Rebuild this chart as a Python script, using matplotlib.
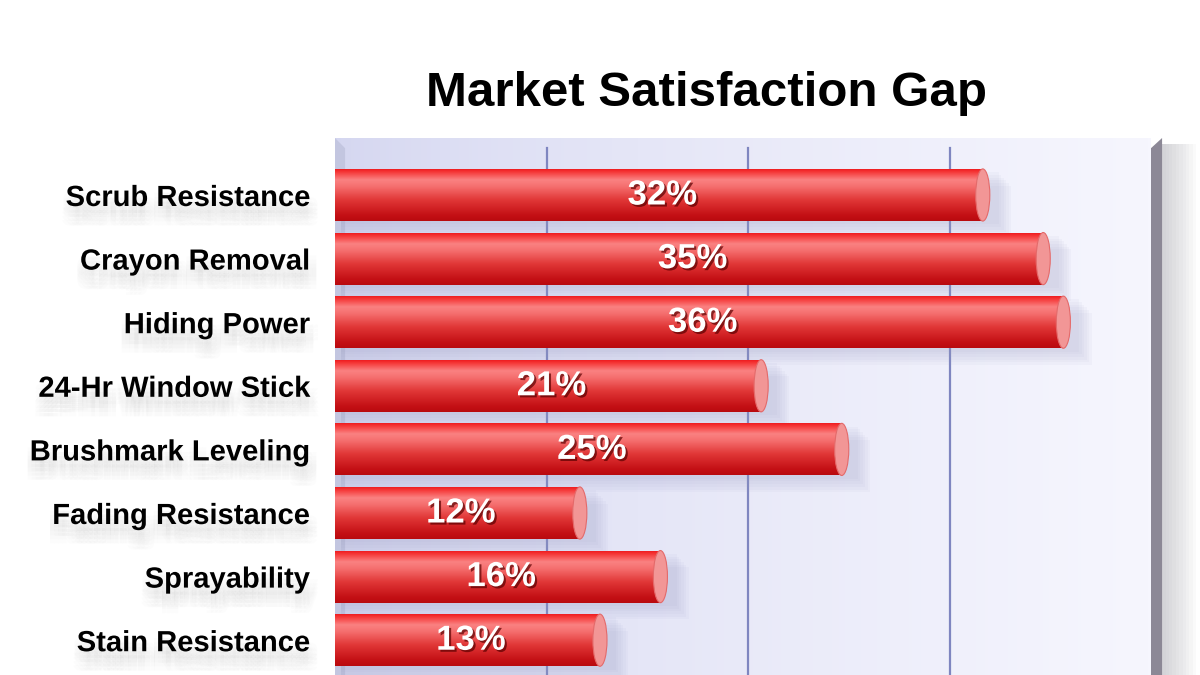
import numpy as np
import matplotlib
matplotlib.use("Agg")
import matplotlib.pyplot as plt
import matplotlib.patheffects as pe
import matplotlib.transforms as mtransforms
from matplotlib.patches import Ellipse, Polygon, Rectangle

CATEGORIES = ["Scrub Resistance", "Crayon Removal", "Hiding Power",
              "24-Hr Window Stick", "Brushmark Leveling", "Fading Resistance",
              "Sprayability", "Stain Resistance"]
GAP = [32, 35, 36, 21, 25, 12, 16, 13]   # percent
TITLE = "Market Satisfaction Gap"

plt.rcParams['font.family'] = ['Liberation Sans', 'DejaVu Sans']

fig = plt.figure(figsize=(12, 6.75), dpi=100)
ax = fig.add_axes([335 / 1200, 0, 816 / 1200, 1 - 138 / 675])

y = np.arange(len(CATEGORIES))
h = 0.82
xmin, xmax = -0.5, 40
ytop, ybot = -0.896, 7.547

# plot background, lavender fading to the right
bg = np.linspace(0, 1, 256).reshape(1, -1)
bgc = np.zeros((1, 256, 3))
left_c = np.array([212, 214, 240]) / 255
right_c = np.array([246, 246, 254]) / 255
for k in range(3):
    bgc[0, :, k] = left_c[k] + (right_c[k] - left_c[k]) * bg[0] ** 0.7
ax.imshow(bgc, extent=[xmin, xmax, ybot, ytop], aspect='auto', zorder=0)

# left wall strip
ax.add_patch(Polygon([[xmin, ybot], [xmin, ytop], [0, ytop + 0.16], [0, ybot]],
                     closed=True, facecolor='#c3c6e0', edgecolor='none', zorder=0.5))

# gridlines
for g in [10, 20, 30]:
    ax.plot([g, g], [ytop + 0.15, ybot], color='#7f86c0', lw=1.6, zorder=1)

# gradient for cylinder bars (top to bottom)
stops = [(0.0, (235, 20, 25)), (0.06, (245, 50, 50)), (0.22, (250, 130, 130)),
         (0.35, (245, 110, 110)), (0.6, (225, 55, 55)), (0.9, (195, 15, 20)),
         (1.0, (185, 10, 15))]
tt = np.linspace(0, 1, 128)
grad = np.zeros((128, 1, 3))
for k in range(3):
    grad[:, 0, k] = np.interp(tt, [s[0] for s in stops], [s[1][k] / 255 for s in stops])

cap_w = 0.7
bars = ax.barh(y, [v - xmin for v in GAP], left=xmin, height=h,
               color='none', edgecolor='none', zorder=3)
for i, (b, v) in enumerate(zip(bars, GAP)):
    # soft shadow
    for j in range(6):
        off = 0.15 + j * 0.12
        ax.add_patch(Rectangle((xmin + 0.3, y[i] - h / 2 + off * 0.35), v - xmin + off,
                               h, facecolor='#9a9cc4', edgecolor='none',
                               alpha=0.06, zorder=2))
    im = ax.imshow(grad, extent=[xmin, v - cap_w / 2, y[i] + h / 2, y[i] - h / 2],
                   aspect='auto', zorder=3)
    im.set_clip_path(b)
    ax.add_patch(Ellipse((v - cap_w / 2, y[i]), cap_w, h, facecolor='#f29696',
                         edgecolor='#e46a6a', lw=0.8, zorder=4))
    ax.text((xmin + v) / 2, y[i], f"{v}%", color='white', fontsize=25,
            fontweight='bold', ha='center', va='center', zorder=5,
            path_effects=[pe.withSimplePatchShadow(offset=(1.5, -1.5),
                                                   shadow_rgbFace='#5a0000', alpha=0.7)])

# right wall
ax.add_patch(Polygon([[xmax, ybot], [xmax, ytop + 0.16], [xmax + 0.55, ytop], [xmax + 0.55, ybot]],
                     closed=True, facecolor='#8c8896', edgecolor='none',
                     clip_on=False, zorder=6))
for j in range(10):
    ax.add_patch(Rectangle((xmax + 0.55, ytop + 0.1), 0.17 * (j + 1), ybot - ytop,
                           facecolor='#a0a0a8', edgecolor='none', alpha=0.05,
                           clip_on=False, zorder=5))

ax.set_xlim(xmin, xmax)
ax.set_ylim(ybot, ytop)
ax.set_yticks(y)
ax.set_yticklabels(CATEGORIES, fontsize=21, fontweight='bold')
blur = [pe.SimplePatchShadow(offset=(dx, dy), shadow_rgbFace='#909090', alpha=0.02)
        for dx in (-3, 0, 3, 6) for dy in (-5, -8, -11, -14)]
shift = mtransforms.ScaledTranslation(0, 0.05, fig.dpi_scale_trans)
for lab in ax.get_yticklabels():
    lab.set_path_effects(blur + [pe.Normal()])
    lab.set_transform(lab.get_transform() + shift)
ax.tick_params(axis='y', length=0, pad=18)
ax.set_xticks([])
for s in ax.spines.values():
    s.set_visible(False)

fig.text(707 / 1200, 1 - 93 / 675, TITLE, fontsize=35.5, fontweight='bold',
         ha='center', va='center')

fig.savefig("out.png", dpi=100)
